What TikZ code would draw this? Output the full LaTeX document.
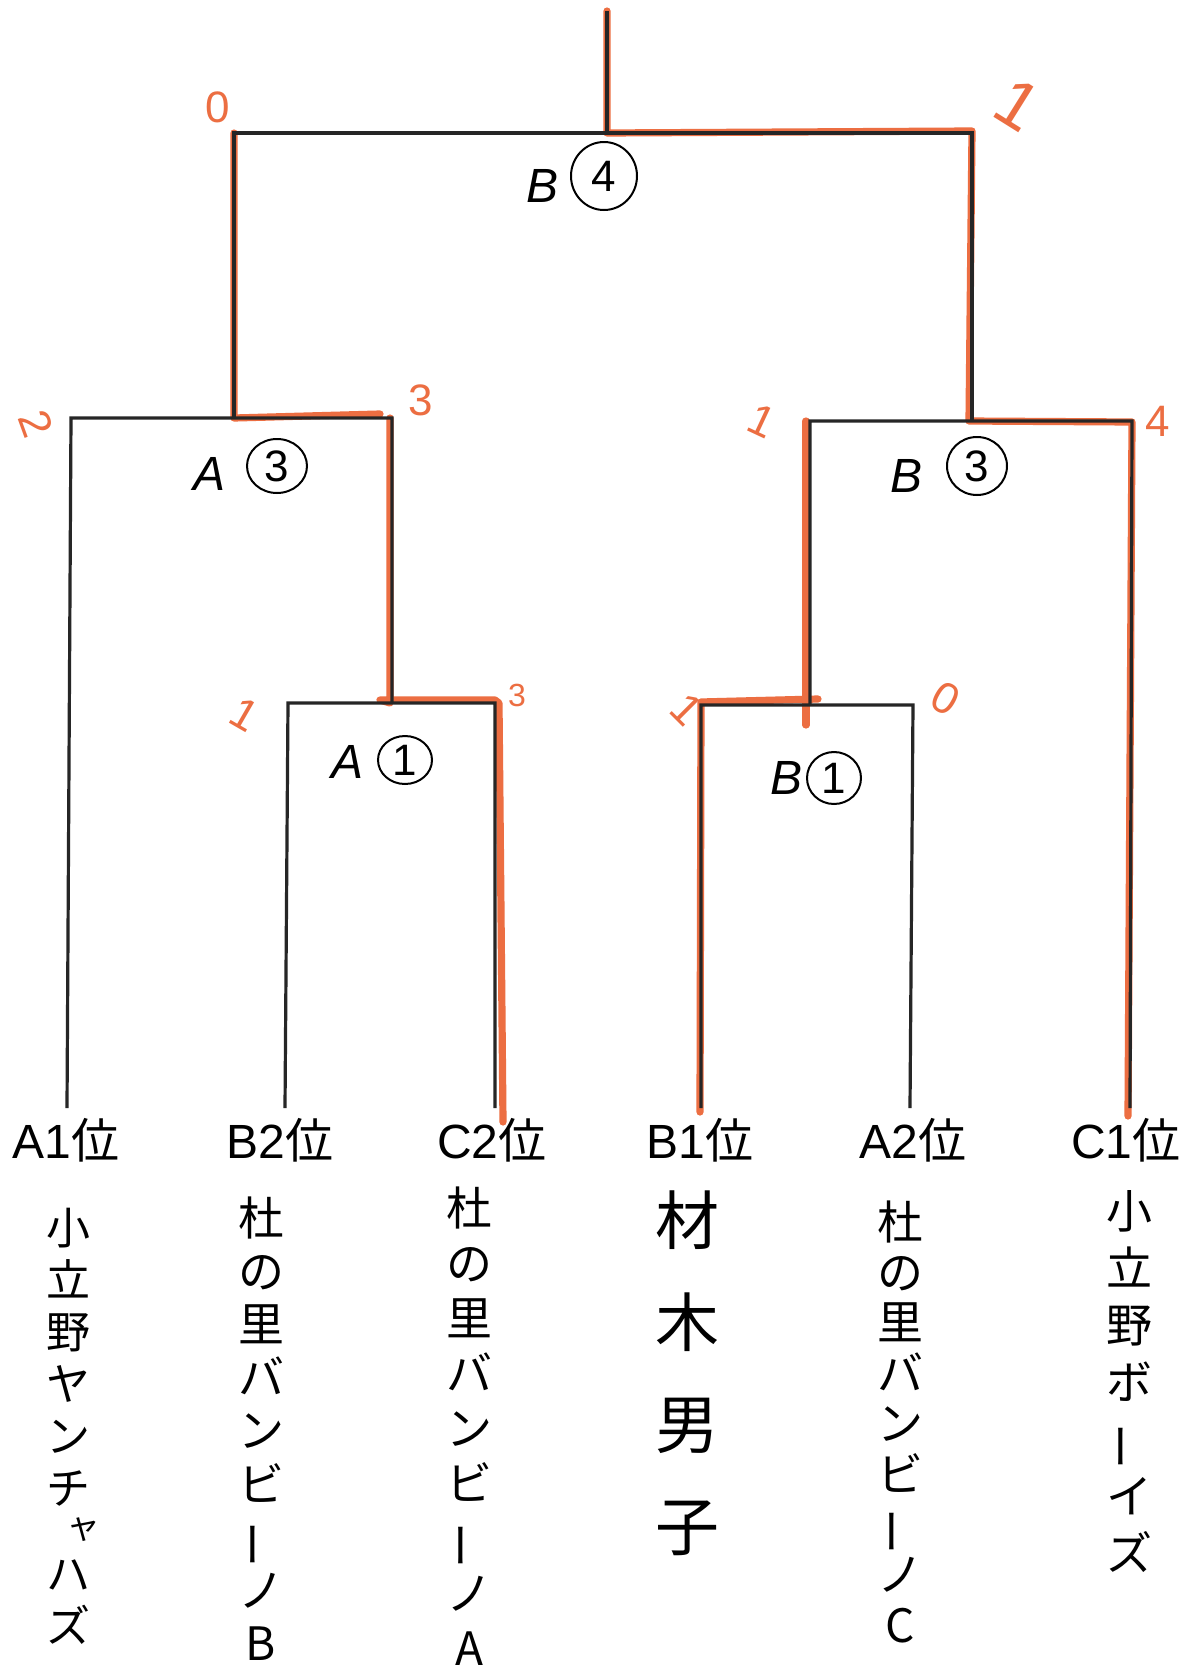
\documentclass[tikz,border=0pt]{standalone}
\usepackage{fontspec}
\setmainfont{Liberation Sans}
\newfontfamily\cjk{Noto Sans CJK JP}
\usetikzlibrary{shapes.geometric}
\definecolor{marker}{RGB}{236,110,66}
\newcommand{\vbar}{\rotatebox[origin=c]{90}{ー}}
\begin{document}
\begin{tikzpicture}[x=0.5pt,y=-0.5pt,
  bracket/.style={draw=black!85,line width=1.6pt},
  win/.style={draw=marker,line width=3.6pt,line cap=round,line join=round},
  score/.style={text=marker,font=\fontsize{22}{24}\selectfont,inner sep=0pt},
  letter/.style={font=\itshape\fontsize{24}{26}\selectfont,inner sep=0pt},
  circ/.style={draw=black,ellipse,line width=1pt,inner sep=0pt,font=\fontsize{22}{24}\selectfont},
  seed/.style={font=\fontsize{24}{26}\selectfont,inner sep=0pt},
  team/.style={anchor=north,align=center,inner sep=0pt}]
\useasboundingbox (0,0) rectangle (1203,1671);
\fill[white] (0,0) rectangle (1203,1671);
% junctions
\coordinate (root) at (607,11);
\coordinate (f) at (607,133);
\coordinate (fl) at (234,133);
\coordinate (fr) at (972,133);
\coordinate (sl) at (234,418);
\coordinate (sll) at (71,418);
\coordinate (slr) at (392,418);
\coordinate (ql) at (392,703);
\coordinate (qll) at (288,703);
\coordinate (qlr) at (495,703);
\coordinate (sr) at (972,421);
\coordinate (srl) at (810,421);
\coordinate (srr) at (1132,421);
\coordinate (qr) at (810,705);
\coordinate (qrl) at (701,705);
\coordinate (qrr) at (913,705);
% team ends
\coordinate (t1) at (67,1108);
\coordinate (t2) at (285,1108);
\coordinate (t3) at (495,1108);
\coordinate (t4) at (701,1108);
\coordinate (t5) at (910,1108);
\coordinate (t6) at (1130,1108);
\coordinate (o3) at (503,1122);
\coordinate (o4) at (700,1112);
\coordinate (o6) at (1128,1116);
% winner marks
\draw[win] (root) -- (f) -- ([yshift=1pt]fr) -- ([xshift=-1.5pt]sr) -- ([yshift=-0.5pt]srr) -- (o6);
\draw[win] (fl) -- (sl) -- ([xshift=-6pt,yshift=2pt]slr);
\draw[win] ([xshift=-1pt]slr) -- ([xshift=-1pt]ql) -- ([xshift=-6pt,yshift=1.5pt]ql) -- ([yshift=1.5pt]qlr) -- ([xshift=2pt]qlr) -- (o3);
\draw[win] ([xshift=-2pt]srl) -- ([xshift=-2pt,yshift=-10pt]qr);
\draw[win] ([xshift=4pt,yshift=3pt]qr) -- ([yshift=1.5pt]qrl) -- (o4);
% bracket
\draw[bracket] (root) -- (f);
\draw[bracket] (sl) -- (fl) -- (fr) -- (sr);
\draw[bracket] (t1) -- (sll) -- (slr) -- (ql);
\draw[bracket] (t2) -- (qll) -- (qlr) -- (t3);
\draw[bracket] (qr) -- (srl) -- (srr) -- (t6);
\draw[bracket] (t4) -- (qrl) -- (qrr) -- (t5);
% scores
\node[score] (s1) at (218,107) {0};
\node[score,rotate=-32,font=\fontsize{34}{36}\selectfont] (s2) at (1018,105) {1};
\node[score,rotate=-70] (s3) at (36,424) {2};
\node[score] (s4) at (421,400) {3};
\node[score,rotate=-25] (s5) at (762,421) {1};
\node[score] (s6) at (1158,421) {4};
\node[score,rotate=-30] (s7) at (245,714) {1};
\node[score,font=\fontsize{16}{18}\selectfont] (s8) at (517,695) {3};
\node[score,rotate=-45] (s9) at (687,709) {1};
\node[score,rotate=-30] (s10) at (946,698) {0};
% match labels
\node[letter] (m1) at (543,186) {B};
\node[circ,minimum width=33pt,minimum height=34pt] (m1c) at (604,176) {4};
\node[letter] (m2) at (210,474) {A};
\node[circ,minimum width=30pt,minimum height=27pt] (m2c) at (277,466) {3};
\node[letter] (m3) at (906,476) {B};
\node[circ,minimum width=30pt,minimum height=29pt] (m3c) at (977,466) {3};
\node[letter] (m4) at (348,762) {A};
\node[circ,minimum width=27pt,minimum height=24pt] (m4c) at (405,760) {1};
\node[letter] (m5) at (786,778) {B};
\node[circ,minimum width=27pt,minimum height=26pt] (m5c) at (834,778) {1};
% seeds
\node[seed] (p1) at (66,1140) {A1\cjk 位};
\node[seed] (p2) at (280,1140) {B2\cjk 位};
\node[seed] (p3) at (492,1140) {C2\cjk 位};
\node[seed] (p4) at (700,1140) {B1\cjk 位};
\node[seed] (p5) at (913,1140) {A2\cjk 位};
\node[seed] (p6) at (1126,1140) {C1\cjk 位};
% team names
\node[team,font=\cjk\fontsize{22}{26}\selectfont] (n1) at (69,1208) {小\\立\\野\\ヤ\\ン\\チ\\[-9pt]\hspace*{14pt}{\fontsize{17}{20}\selectfont ャ}\\ハ\\ズ};
\node[team,font=\cjk\fontsize{23}{26.6}\selectfont] (n2) at (261,1196) {杜\\の\\里\\バ\\ン\\ビ\\\vbar\\ノ\\B};
\node[team,font=\cjk\fontsize{23}{27.5}\selectfont] (n3) at (469,1186) {杜\\の\\里\\バ\\ン\\ビ\\\vbar\\ノ\\A};
\node[team,font=\cjk\fontsize{32}{51}\selectfont] (n4) at (687,1190) {材\\木\\男\\子};
\node[team,font=\cjk\fontsize{23}{25.2}\selectfont] (n5) at (900,1200) {杜\\の\\里\\バ\\ン\\ビ\\\vbar\\ノ\\C};
\node[team,font=\cjk\fontsize{23}{28.5}\selectfont] (n6) at (1129,1190) {小\\立\\野\\ボ\\\vbar\\イ\\ズ};
\end{tikzpicture}
\end{document}
